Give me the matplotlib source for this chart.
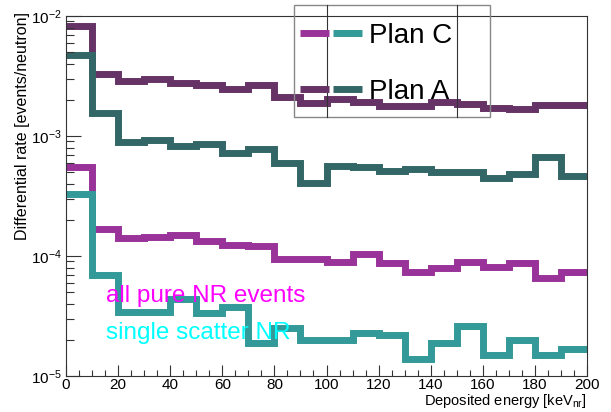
import numpy as np
import matplotlib
matplotlib.use("Agg")
import matplotlib.pyplot as plt
from matplotlib.lines import Line2D
from matplotlib.patches import Rectangle
from matplotlib.ticker import LogLocator, MultipleLocator

plt.rcParams['font.family'] = ['Liberation Sans', 'DejaVu Sans']
plt.rcParams['mathtext.default'] = 'regular'

# bin edges (keV_nr)
edges = np.arange(0, 210, 10)

# differential rates [events/neutron], one value per 10 keV bin
plan_a_all = [8.3e-3, 3.29e-3, 2.89e-3, 2.99e-3, 2.78e-3, 2.64e-3, 2.45e-3, 2.68e-3, 2.12e-3, 1.90e-3,
              2.03e-3, 1.93e-3, 1.78e-3, 1.78e-3, 1.93e-3, 1.84e-3, 1.70e-3, 1.67e-3, 1.80e-3, 1.80e-3]
plan_a_single = [4.73e-3, 1.55e-3, 8.97e-4, 9.2e-4, 8.3e-4, 8.6e-4, 7.17e-4, 7.79e-4, 5.92e-4, 4.08e-4,
                 5.62e-4, 5.55e-4, 5.14e-4, 5.28e-4, 5.04e-4, 4.98e-4, 4.5e-4, 4.82e-4, 6.64e-4, 4.64e-4]
plan_c_all = [5.55e-4, 1.67e-4, 1.40e-4, 1.43e-4, 1.50e-4, 1.34e-4, 1.23e-4, 1.20e-4, 9.4e-5, 9.4e-5,
              8.97e-5, 1.03e-4, 8.7e-5, 7.4e-5, 8.0e-5, 8.97e-5, 8.15e-5, 8.8e-5, 6.6e-5, 7.3e-5]
plan_c_single = [3.27e-4, 6.95e-5, 3.43e-5, 3.43e-5, 4.36e-5, 3.33e-5, 3.74e-5, 1.87e-5, 2.5e-5, 2.0e-5,
                 2.0e-5, 2.27e-5, 2.2e-5, 1.39e-5, 1.9e-5, 2.63e-5, 1.5e-5, 2.0e-5, 1.5e-5, 1.68e-5]

c_a_all = '#663366'
c_a_single = '#336666'
c_c_all = '#993399'
c_c_single = '#339999'

W, H = 611, 412
fig = plt.figure(figsize=(W / 100, H / 100), dpi=100)
ax = fig.add_axes([66 / W, 1 - 376 / H, (587 - 66) / W, (376 - 16) / H])

lw = 5
ax.stairs(plan_a_all, edges, color=c_a_all, lw=lw, baseline=None)
ax.stairs(plan_a_single, edges, color=c_a_single, lw=lw, baseline=None)
ax.stairs(plan_c_all, edges, color=c_c_all, lw=lw, baseline=None)
ax.stairs(plan_c_single, edges, color=c_c_single, lw=lw, baseline=None)

ax.set_yscale('log')
ax.set_xlim(0, 200)
ax.set_ylim(1e-5, 1e-2)

ax.xaxis.set_major_locator(MultipleLocator(20))
ax.xaxis.set_minor_locator(MultipleLocator(5))
ax.yaxis.set_major_locator(LogLocator(base=10))
ax.yaxis.set_minor_locator(LogLocator(base=10, subs=np.arange(2, 10)))
ax.yaxis.set_minor_formatter(plt.NullFormatter())

ax.tick_params(axis='both', which='both', direction='in', top=False, right=False,
               labelsize=11, width=0.8, color='#333333')
ax.tick_params(axis='y', which='major', length=11, pad=3)
ax.tick_params(axis='y', which='minor', length=6)
ax.tick_params(axis='x', which='major', length=8, pad=1.5, labelsize=11)
ax.tick_params(axis='x', which='minor', length=4)
for s in ax.spines.values():
    s.set_linewidth(0.8)
    s.set_color('#333333')

fig.text(587 / W, 1 - 405 / H, 'Deposited energy [keV$_{nr}$]', ha='right', va='baseline', fontsize=10.5)
fig.text(23 / W, 1 - 12 / H, 'Differential rate [events/neutron]', rotation=90,
         ha='center', va='top', fontsize=11.5)

# annotations
fig.text(106 / W, 1 - 296 / H, 'all pure NR events', color='#ff00ff', fontsize=17.5, va='center', ha='left')
fig.text(106 / W, 1 - 333 / H, 'single scatter NR', color='#00ffff', fontsize=17.5, va='center', ha='left')

# legend box (ROOT style)
fig.add_artist(Rectangle((294 / W, 1 - 117 / H), (490 - 294) / W, (117 - 5) / H,
                         transform=fig.transFigure, fill=False, ec='#888888', lw=1))
for xp in (327, 457):
    fig.add_artist(Line2D([xp / W, xp / W], [1 - 5 / H, 1 - 117 / H],
                          transform=fig.transFigure, color='#333333', lw=0.8))
rows = [(33, c_c_all, c_c_single, 'Plan C'), (89, c_a_all, c_a_single, 'Plan A')]
for yp, ca, cs, lab in rows:
    fig.add_artist(Line2D([300 / W, 329 / W], [1 - yp / H] * 2, transform=fig.transFigure,
                          color=ca, lw=lw, solid_capstyle='butt'))
    fig.add_artist(Line2D([333 / W, 362 / W], [1 - yp / H] * 2, transform=fig.transFigure,
                          color=cs, lw=lw, solid_capstyle='butt'))
    fig.text(369 / W, 1 - (yp + 3) / H, lab, fontsize=20, va='center', ha='left')

fig.savefig('out.png', dpi=100)
